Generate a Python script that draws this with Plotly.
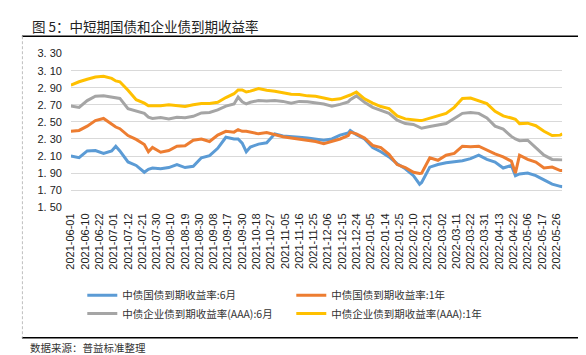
import plotly.graph_objects as go

W, H = 586, 355

# trading-day index (0 = 2021-06-01) of each reading
day_idx = [0, 4, 8, 12, 16, 20, 22, 24, 28, 32, 36, 38, 40, 44, 48, 52, 56, 60,
           64, 68, 72, 76, 80, 82, 84, 86, 88, 92, 96, 100, 104, 108, 112, 116, 120,
           124, 128, 132, 136, 137, 140, 144, 148, 152, 156, 160, 164, 168, 171, 172,
           176, 180, 184, 188, 192, 196, 200, 204, 208, 212, 216, 218, 220, 224, 228,
           232, 236, 240, 241]

gov_6m = [2.10, 2.08, 2.16, 2.165, 2.13, 2.16, 2.215, 2.16, 2.03, 1.99, 1.91, 1.945, 1.96,
          1.95, 1.965, 2.00, 1.965, 1.98,
          2.08, 2.105, 2.19, 2.32, 2.30, 2.30, 2.25, 2.15, 2.205, 2.24, 2.255, 2.36, 2.335,
          2.33, 2.32, 2.31, 2.30,
          2.285, 2.30, 2.345, 2.37, 2.40, 2.35, 2.30, 2.20, 2.15, 2.09, 2.01, 1.95, 1.87,
          1.77, 1.79,
          1.97, 2.00, 2.02, 2.03, 2.045, 2.07, 2.11, 2.06, 2.03, 1.96, 1.99, 1.87, 1.89,
          1.90, 1.87,
          1.82, 1.77, 1.745, 1.74]

gov_1y = [2.39, 2.40, 2.45, 2.515, 2.54, 2.475, 2.44, 2.42, 2.34, 2.295, 2.235, 2.15, 2.20,
          2.145, 2.165, 2.215, 2.22, 2.285,
          2.30, 2.27, 2.345, 2.39, 2.38, 2.41, 2.39, 2.39, 2.38, 2.36, 2.375, 2.35, 2.325,
          2.31, 2.295, 2.285, 2.27,
          2.245, 2.27, 2.30, 2.34, 2.38, 2.36, 2.31, 2.225, 2.20, 2.12, 2.00, 1.965, 1.91,
          1.895, 1.90,
          2.08, 2.05, 2.11, 2.13, 2.215, 2.21, 2.215, 2.17, 2.125, 2.09, 2.04, 1.90, 2.11,
          2.06, 2.03,
          1.96, 1.97, 1.93, 1.93]

corp_6m = [2.685, 2.67, 2.75, 2.80, 2.805, 2.79, 2.79, 2.775, 2.655, 2.625, 2.60, 2.555, 2.54,
           2.55, 2.535, 2.555, 2.55, 2.565,
           2.605, 2.61, 2.64, 2.685, 2.71, 2.79, 2.735, 2.71, 2.73, 2.75, 2.745, 2.75, 2.74,
           2.72, 2.74, 2.735, 2.725,
           2.71, 2.685, 2.705, 2.735, 2.76, 2.805, 2.73, 2.67, 2.635, 2.60, 2.52, 2.48, 2.47,
           2.43, 2.425,
           2.445, 2.465, 2.48, 2.54, 2.60, 2.61, 2.60, 2.545, 2.45, 2.415, 2.33, 2.30, 2.28,
           2.285, 2.20,
           2.11, 2.06, 2.06, 2.055]

corp_1y = [2.93, 2.97, 3.00, 3.025, 3.035, 3.01, 2.98, 2.97, 2.87, 2.76, 2.72, 2.69, 2.69,
           2.69, 2.70, 2.69, 2.68, 2.70,
           2.715, 2.715, 2.73, 2.785, 2.83, 2.875, 2.875, 2.85, 2.86, 2.89, 2.87, 2.86, 2.845,
           2.825, 2.82, 2.805, 2.80,
           2.78, 2.76, 2.77, 2.80, 2.815, 2.85, 2.77, 2.72, 2.68, 2.655, 2.57, 2.535, 2.52,
           2.515, 2.515,
           2.545, 2.57, 2.60, 2.67, 2.775, 2.78, 2.745, 2.715, 2.625, 2.57, 2.545, 2.53, 2.48,
           2.485, 2.455,
           2.39, 2.34, 2.345, 2.36]

series_names = ["中债国债到期收益率:6月", "中债国债到期收益率:1年",
                "中债企业债到期收益率(AAA):6月", "中债企业债到期收益率(AAA):1年"]
series_colors = ["#5B9BD5", "#ED7D31", "#A5A5A5", "#FFC000"]

# x-axis labels, one every 7 trading days
tick_dates = ["2021-06-01", "2021-06-10", "2021-06-22", "2021-07-01", "2021-07-12",
              "2021-07-21", "2021-07-30", "2021-08-10", "2021-08-19", "2021-08-30",
              "2021-09-08", "2021-09-17", "2021-09-30", "2021-10-18", "2021-10-27",
              "2021-11-05", "2021-11-16", "2021-11-25", "2021-12-06", "2021-12-15",
              "2021-12-24", "2022-01-05", "2022-01-14", "2022-01-25", "2022-02-10",
              "2022-02-21", "2022-03-02", "2022-03-11", "2022-03-22", "2022-03-31",
              "2022-04-13", "2022-04-22", "2022-05-06", "2022-05-17", "2022-05-26"]
tick_step = 7

y_ticks = [1.50, 1.70, 1.90, 2.10, 2.30, 2.50, 2.70, 2.90, 3.10, 3.30]
y_ticktext = ["1. 50", "1. 70", "1. 90", "2. 10", "2. 30", "2. 50", "2. 70", "2. 90", "3. 10", "3. 30"]

title_text = "图 5：中短期国债和企业债到期收益率"
source_text = "数据来源：普益标准整理"

for s in (gov_6m, gov_1y, corp_6m, corp_1y):
    assert len(s) == len(day_idx)

CJK = "Noto Sans CJK SC"
fig = go.Figure()
all_series = [gov_6m, gov_1y, corp_6m, corp_1y]
legend_ids = ["legend", "legend", "legend2", "legend2"]
for name, vals, col, lg in zip(series_names, all_series, series_colors, legend_ids):
    fig.add_trace(go.Scatter(x=day_idx, y=vals, mode="lines", name=name,
                             line=dict(color=col, width=3), legend=lg))

px = lambda v: v / W
py = lambda v: 1 - v / H

legend_common = dict(orientation="h", xanchor="left", yanchor="middle",
                     entrywidth=164, entrywidthmode="pixels", bgcolor="rgba(0,0,0,0)",
                     font=dict(family=CJK, size=10.5, color="#333"), itemwidth=30)

fig.update_layout(
    width=W, height=H,
    margin=dict(l=0, r=0, t=0, b=0),
    paper_bgcolor="white", plot_bgcolor="white",
    xaxis=dict(domain=[px(57.5), px(554)], range=[0, day_idx[-1]],
               tickmode="array", tickvals=[i * tick_step for i in range(len(tick_dates))],
               ticktext=tick_dates, tickangle=-90, showgrid=False, zeroline=False,
               showline=False, ticks="", ticklabelstandoff=3,
               tickfont=dict(family="Liberation Sans, Arial", size=11, color="#222")),
    yaxis=dict(domain=[py(200), py(41)], range=[1.50, 3.30],
               tickmode="array", tickvals=y_ticks, ticktext=y_ticktext,
               showgrid=True, gridcolor="#D9D9D9", gridwidth=1, zeroline=False,
               showline=False, ticks="", ticklabelstandoff=8,
               tickfont=dict(family="Liberation Sans, Arial", size=11, color="#222")),
    legend=dict(x=px(69), y=py(291), **legend_common),
    legend2=dict(x=px(69), y=py(310), **legend_common),
    showlegend=True,
)

fig.add_annotation(text=title_text, x=px(16), y=py(12), xref="paper", yref="paper",
                   xanchor="left", yanchor="middle", showarrow=False,
                   font=dict(family=CJK, size=13.5, color="#222"))
fig.add_annotation(text=source_text, x=px(14), y=py(345), xref="paper", yref="paper",
                   xanchor="left", yanchor="middle", showarrow=False,
                   font=dict(family=CJK, size=10.5, color="#333"))

# frame: black rules top & bottom, dashed sides
fig.add_shape(type="line", xref="paper", yref="paper", x0=px(8), x1=px(578), y0=py(23), y1=py(23),
              line=dict(color="black", width=1.5))
fig.add_shape(type="line", xref="paper", yref="paper", x0=px(8), x1=px(578), y0=py(335), y1=py(335),
              line=dict(color="black", width=1.5))
for xx in (8.5, 577):
    fig.add_shape(type="line", xref="paper", yref="paper", x0=px(xx), x1=px(xx), y0=py(23), y1=py(335),
                  line=dict(color="#BFBFBF", width=1, dash="3px,2px"))

fig.write_html("out.html")
